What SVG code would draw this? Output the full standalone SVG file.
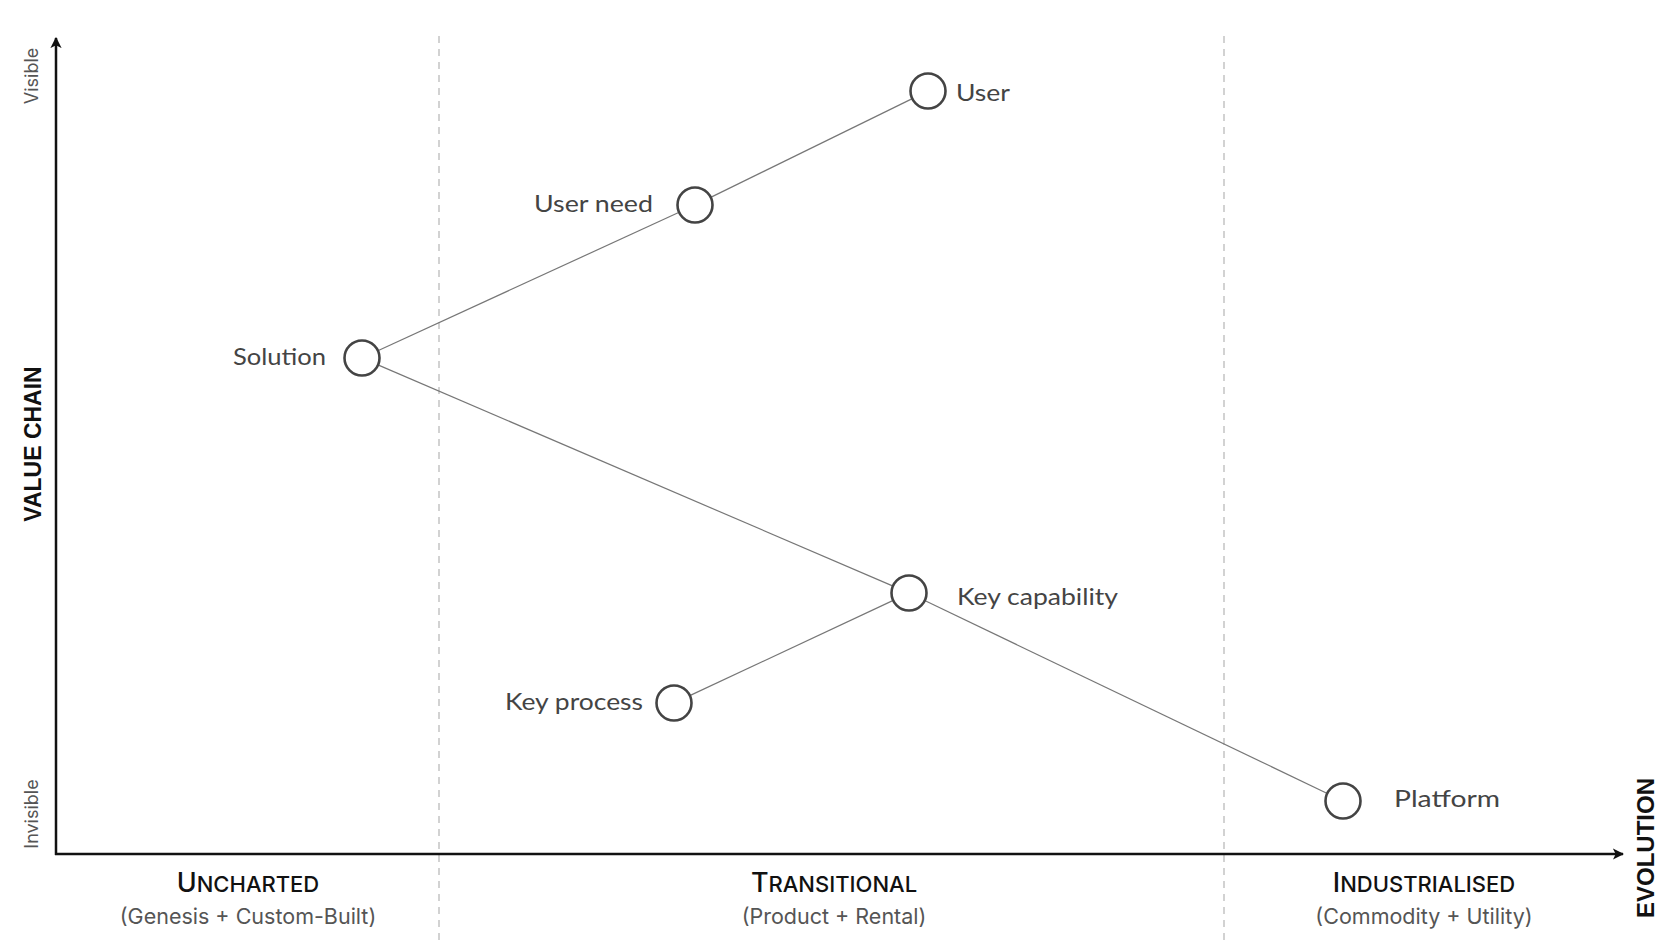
<svg xmlns="http://www.w3.org/2000/svg" width="1680" height="945" viewBox="0 0 1680 945">
<style>
  .axis{stroke:#111;stroke-width:2.5;fill:none}
  .divider{stroke:#bbb;stroke-width:1.3;stroke-dasharray:7 6;fill:none}
  .link{stroke:#777;stroke-width:1.2;fill:none}
  .node circle{fill:#fff;stroke:#444;stroke-width:2.6}
  .label{font-family:Lato,"Open Sans",sans-serif;font-size:24px;fill:#444}
  .title{font-family:Inter,"Liberation Sans",sans-serif;font-weight:500;fill:#111;text-anchor:middle}
  .sub{font-family:Inter,"Liberation Sans",sans-serif;font-size:21.5px;fill:#555;text-anchor:middle}
  .vis{font-family:Inter,"Liberation Sans",sans-serif;font-size:18px;fill:#555;text-anchor:middle}
  .axlabel{font-family:"Liberation Sans",Arial,sans-serif;font-weight:bold;fill:#111;text-anchor:middle}
</style>
<defs>
  <marker id="arr" viewBox="0 0 10 10" refX="9" refY="5" markerWidth="4.5" markerHeight="4.5" orient="auto" markerUnits="strokeWidth">
    <path d="M0,0 L10,5 L0,10 L2.5,5 Z" fill="#111"/>
  </marker>
</defs>
<rect width="1680" height="945" fill="#fff"/>

<g id="grid">
  <line class="divider" x1="439" y1="36" x2="439" y2="945"/>
  <line class="divider" x1="1224" y1="36" x2="1224" y2="945"/>
</g>

<g id="axes">
  <line class="axis" x1="56" y1="855" x2="56" y2="38" marker-end="url(#arr)"/>
  <line class="axis" x1="55" y1="854" x2="1623" y2="854" marker-end="url(#arr)"/>
  <text class="vis" transform="translate(38,76) rotate(-90)">Visible</text>
  <text class="vis" transform="translate(38,814) rotate(-90)">Invisible</text>
  <text class="axlabel" font-size="23" transform="translate(41,444) rotate(-90)">VALUE CHAIN</text>
  <text class="axlabel" font-size="24" transform="translate(1654,848) rotate(-90)">EVOLUTION</text>
</g>

<g id="stages">
  <text class="title" x="248" y="892" font-size="27">U<tspan font-size="22">NCHARTED</tspan></text>
  <text class="sub" x="248" y="924">(Genesis + Custom-Built)</text>
  <text class="title" x="834" y="892" font-size="27">T<tspan font-size="22">RANSITIONAL</tspan></text>
  <text class="sub" x="834" y="924">(Product + Rental)</text>
  <text class="title" x="1424" y="892" font-size="27">I<tspan font-size="22">NDUSTRIALISED</tspan></text>
  <text class="sub" x="1424" y="924">(Commodity + Utility)</text>
</g>

<g id="connectors">
  <line class="link" x1="378.4" y1="350.5" x2="678.6" y2="212.5"/>
  <line class="link" x1="711.2" y1="197.1" x2="911.8" y2="98.9"/>
  <line class="link" x1="378.5" y1="365.1" x2="892.5" y2="585.9"/>
  <line class="link" x1="925.2" y1="600.8" x2="1326.8" y2="793.2"/>
  <line class="link" x1="690.3" y1="695.4" x2="892.7" y2="600.6"/>
</g>

<g id="node-user" class="node">
  <circle cx="928" cy="91" r="17.5"/>
  <text class="label" x="956" y="101" textLength="54" lengthAdjust="spacingAndGlyphs">User</text>
</g>
<g id="node-user-need" class="node">
  <circle cx="695" cy="205" r="17.5"/>
  <text class="label" x="534" y="212" textLength="119" lengthAdjust="spacingAndGlyphs">User need</text>
</g>
<g id="node-solution" class="node">
  <circle cx="362" cy="358" r="17.5"/>
  <text class="label" x="233" y="365" textLength="93" lengthAdjust="spacingAndGlyphs">Solution</text>
</g>
<g id="node-key-capability" class="node">
  <circle cx="909" cy="593" r="17.5"/>
  <text class="label" x="957" y="605" textLength="161" lengthAdjust="spacingAndGlyphs">Key capability</text>
</g>
<g id="node-key-process" class="node">
  <circle cx="674" cy="703" r="17.5"/>
  <text class="label" x="505" y="710" textLength="138" lengthAdjust="spacingAndGlyphs">Key process</text>
</g>
<g id="node-platform" class="node">
  <circle cx="1343" cy="801" r="17.5"/>
  <text class="label" x="1394" y="807" textLength="106" lengthAdjust="spacingAndGlyphs">Platform</text>
</g>
</svg>
